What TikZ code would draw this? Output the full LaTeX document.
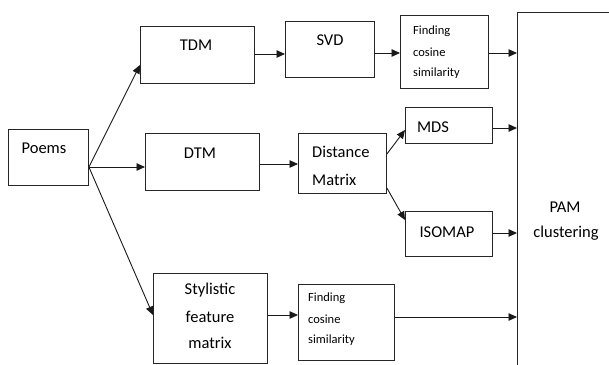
\documentclass[tikz,border=0pt]{standalone}
\usepackage{fontspec}
\setmainfont{Carlito}
\usetikzlibrary{arrows.meta}
\begin{document}
\begin{tikzpicture}[x=1pt,y=-1pt,
  box/.style={draw=black!85, line width=0.9pt, inner sep=0pt, anchor=north west},
  big/.style={font=\fontsize{16.5}{18}\selectfont, inner sep=0pt},
  small/.style={font=\fontsize{12.5}{14}\selectfont, inner sep=0pt, anchor=west},
  arr/.style={draw=black!90, line width=0.9pt, -{Triangle[length=8.5pt,width=7.5pt]}}]
\useasboundingbox (0,0) rectangle (609,364);
\clip (0,0) rectangle (609,364);
% boxes
\node[box, minimum width=80pt, minimum height=56pt] (poems) at (8,129) {};
\node[box, minimum width=114pt, minimum height=57pt] (tdm) at (140,26) {};
\node[box, minimum width=114pt, minimum height=57pt] (dtm) at (145,133) {};
\node[box, minimum width=89pt, minimum height=56pt] (svd) at (285,21) {};
\node[box, minimum width=88pt, minimum height=73pt] (find1) at (400,15) {};
\node[box, minimum width=88pt, minimum height=60pt] (dist) at (298,133) {};
\node[box, minimum width=87pt, minimum height=36pt] (mds) at (405,107) {};
\node[box, minimum width=87pt, minimum height=45pt] (iso) at (405,211) {};
\node[box, minimum width=114pt, minimum height=90pt] (styl) at (153,273) {};
\node[box, minimum width=96pt, minimum height=76pt] (find2) at (298,284) {};
\node[box, minimum width=140pt, minimum height=400pt] (pam) at (517,12) {};
% texts
\node[big] (poemsT) at (44,148) {Poems};
\node[big] (tdmT) at (196,45) {TDM};
\node[big] (dtmT) at (200,153) {DTM};
\node[big] (svdT) at (330,40) {SVD};
\node[small] (f1a) at (413,31) {Finding};
\node[small] (f1b) at (413,52) {cosine};
\node[small] (f1c) at (413,73) {similarity};
\node[big, anchor=west] (distA) at (312,152) {Distance};
\node[big, anchor=west] (distB) at (312,180) {Matrix};
\node[big] (mdsT) at (433,127) {MDS};
\node[big] (isoT) at (447,232) {ISOMAP};
\node[big] (pamA) at (565,207) {PAM};
\node[big] (pamB) at (566,233) {clustering};
\node[small] (f2a) at (308,298) {Finding};
\node[small] (f2b) at (308,319) {cosine};
\node[small] (f2c) at (308,340) {similarity};
\node[big] (stA) at (210,290) {Stylistic};
\node[big] (stB) at (210,317) {feature};
\node[big] (stC) at (210,343) {matrix};
% connectors
\coordinate (p0) at (poems.east |- {(0,167)});
\draw[arr] (p0) -- (tdm.west |- {(0,65)});
\draw[arr] (p0) -- (dtm.west |- {(0,167)});
\draw[arr] (p0) -- (styl.west |- {(0,315)});
\draw[arr] (tdm.east |- {(0,54)}) -- (svd.west |- {(0,54)});
\draw[arr] (svd.east |- {(0,53)}) -- (find1.west |- {(0,53)});
\draw[arr] (find1.east |- {(0,53)}) -- (pam.west |- {(0,53)});
\draw[arr] (dtm.east |- {(0,164)}) -- (dist.west |- {(0,164)});
\draw[arr] (dist.east |- {(0,154)}) -- (mds.west |- {(0,130)});
\draw[arr] (dist.east |- {(0,188)}) -- (iso.west |- {(0,220)});
\draw[arr] (mds.east |- {(0,128)}) -- (pam.west |- {(0,128)});
\draw[arr] (iso.east |- {(0,233)}) -- (pam.west |- {(0,233)});
\draw[arr] (styl.east |- {(0,315)}) -- (find2.west |- {(0,315)});
\draw[arr] (find2.east |- {(0,317)}) -- (pam.west |- {(0,317)});
\end{tikzpicture}
\end{document}
